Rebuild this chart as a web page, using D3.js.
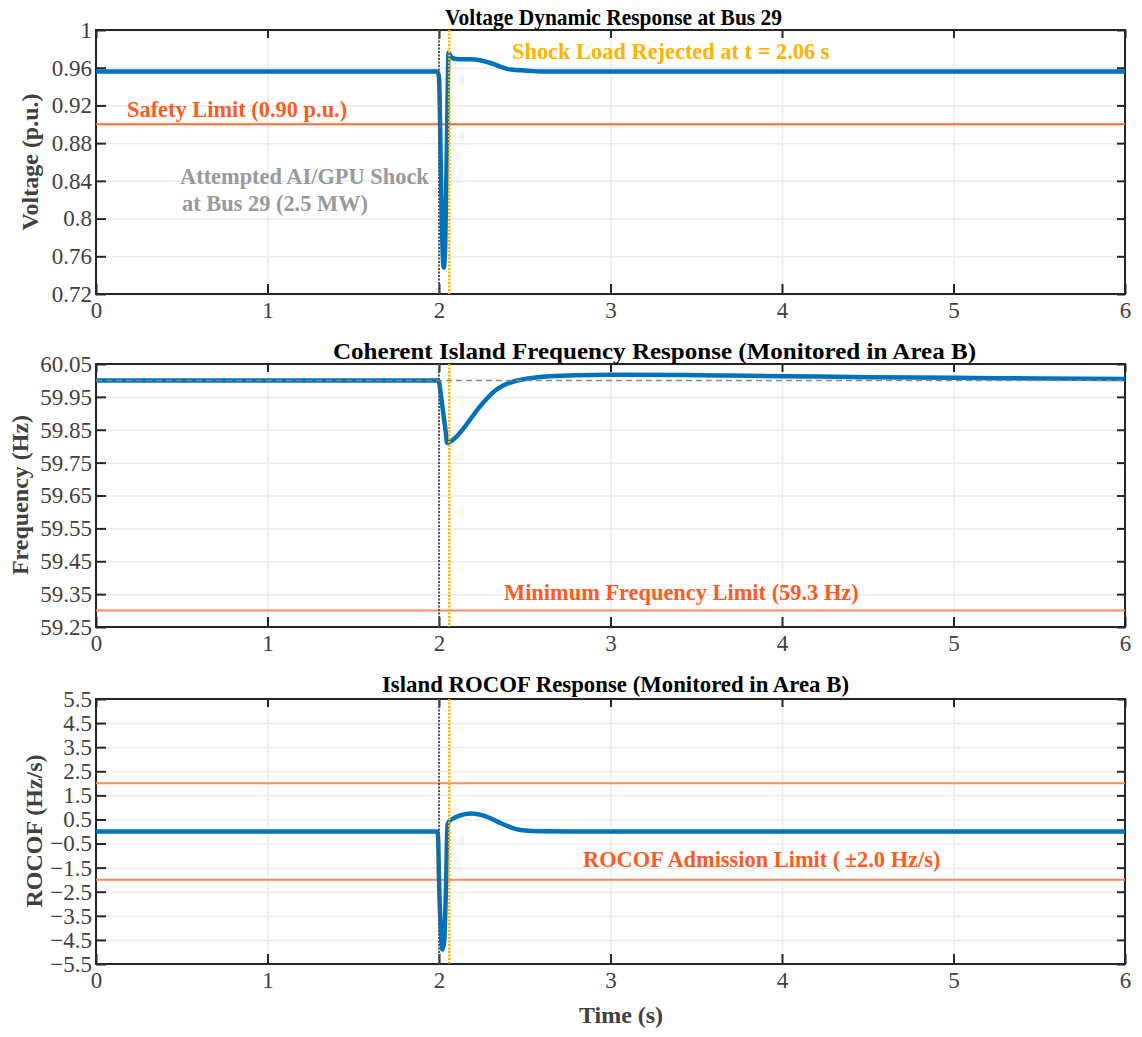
<!DOCTYPE html>
<html>
<head>
<meta charset="utf-8">
<script src="https://cdn.jsdelivr.net/npm/d3@7"></script>
<style>
  body { margin: 0; background: #fff; }
  text { font-family: "Liberation Serif", "Times New Roman", serif; }
</style>
</head>
<body>
<div id="container"></div>
<script>
let w = 1142;
let h = 1037;

// time axis
let xTicks = [0, 1, 2, 3, 4, 5, 6];

// voltage at bus 29
let voltTime = [0, 1.99, 2.0, 2.01, 2.02, 2.028, 2.036, 2.046, 2.056, 2.066, 2.08, 2.12, 2.18, 2.24, 2.3, 2.36, 2.42, 2.5, 2.6, 3.0, 6];
let voltVal  = [0.956, 0.956, 0.95, 0.86, 0.77, 0.748, 0.77, 0.88, 0.976, 0.973, 0.970, 0.969, 0.969, 0.968, 0.965, 0.961, 0.958, 0.957, 0.956, 0.956, 0.956];
let voltTicks = [0.72, 0.76, 0.8, 0.84, 0.88, 0.92, 0.96, 1];
let voltLimit = 0.90;

// island frequency
let freqTime = [0, 1.99, 2.0, 2.01, 2.02, 2.03, 2.04, 2.047, 2.06, 2.1, 2.14, 2.18, 2.23, 2.28, 2.33, 2.38, 2.43, 2.52, 2.65, 2.8, 3.0, 3.5, 4, 4.5, 5, 5.5, 6];
let freqVal  = [60.0, 60.0, 59.995, 59.96, 59.92, 59.88, 59.84, 59.81, 59.812, 59.828, 59.852, 59.88, 59.915, 59.945, 59.97, 59.986, 59.996, 60.006, 60.013, 60.016, 60.017, 60.016, 60.013, 60.010, 60.008, 60.006, 60.004];
let freqTicks = [59.25, 59.35, 59.45, 59.55, 59.65, 59.75, 59.85, 59.95, 60.05];
let freqNominal = 60.0;
let freqLimit = 59.3;

// island rocof
let rocofTime = [0, 1.99, 1.995, 2.0, 2.01, 2.02, 2.03, 2.04, 2.05, 2.06, 2.1, 2.15, 2.19, 2.25, 2.3, 2.35, 2.4, 2.45, 2.5, 2.6, 2.8, 6];
let rocofVal  = [0, 0, -0.3, -2.0, -4.0, -4.9, -4.6, -2.5, 0.3, 0.42, 0.6, 0.72, 0.75, 0.68, 0.55, 0.38, 0.22, 0.1, 0.04, 0.01, 0, 0];
let rocofTicks = [-5.5, -4.5, -3.5, -2.5, -1.5, -0.5, 0.5, 1.5, 2.5, 3.5, 4.5, 5.5];
let rocofLimits = [2.0, -2.0];

// events
let shockTime = 2.0;
let rejectTime = 2.06;

let viz = d3.select("#container")
  .append("svg")
    .attr("width", w)
    .attr("height", h)
    .style("background-color", "#fff")
;

let left = 96;
let right = 1125;
let blue = "#0072BD";
let limitColor = "#ff5a1f";

let x = d3.scaleLinear().domain([0, 6]).range([left, right]);

function drawPanel(top, bottom, domain, ticks, fmt){
    let y = d3.scaleLinear().domain(domain).range([bottom, top]);
    let g = viz.append("g");

    // grid
    g.append("g")
        .attr("transform", "translate(0," + bottom + ")")
        .call(d3.axisBottom(x).tickValues(xTicks).tickSize(-(bottom - top)).tickFormat(""))
        .call(a => a.select(".domain").remove())
        .selectAll("line").attr("stroke", "#ebebeb").attr("stroke-width", 1.5)
    ;
    g.append("g")
        .attr("transform", "translate(" + left + ",0)")
        .call(d3.axisLeft(y).tickValues(ticks).tickSize(-(right - left)).tickFormat(""))
        .call(a => a.select(".domain").remove())
        .selectAll("line").attr("stroke", "#ebebeb").attr("stroke-width", 1.5)
    ;

    // axes with inward ticks, mirrored on top / right
    let xb = g.append("g")
        .attr("transform", "translate(0," + bottom + ")")
        .call(d3.axisBottom(x).tickValues(xTicks).tickSize(-10).tickPadding(8).tickFormat(d3.format("d")));
    let yl = g.append("g")
        .attr("transform", "translate(" + left + ",0)")
        .call(d3.axisLeft(y).tickValues(ticks).tickSize(-10).tickPadding(4).tickFormat(fmt));
    let xt = g.append("g")
        .attr("transform", "translate(0," + top + ")")
        .call(d3.axisTop(x).tickValues(xTicks).tickSize(-8).tickFormat(""));
    let yr = g.append("g")
        .attr("transform", "translate(" + right + ",0)")
        .call(d3.axisRight(y).tickValues(ticks).tickSize(-8).tickFormat(""));

    [xb, yl, xt, yr].forEach(a => {
        a.select(".domain").remove();
        a.selectAll("line").attr("stroke", "#262626").attr("stroke-width", 2);
        a.selectAll("text").attr("fill", "#404040").style("font-size", "23px");
    });

    g.append("rect")
        .attr("x", left)
        .attr("y", top)
        .attr("width", right - left)
        .attr("height", bottom - top)
        .attr("fill", "none")
        .attr("stroke", "#262626")
        .attr("stroke-width", 2)
    ;
    return {g: g, y: y};
}

function drawCurve(p, ts, vs){
    let line = d3.line()
        .x((d, i) => x(ts[i]))
        .y(d => p.y(d))
        .curve(d3.curveMonotoneX);
    p.g.append("path")
        .datum(vs)
        .attr("d", line)
        .attr("fill", "none")
        .attr("stroke", blue)
        .attr("stroke-width", 4.5)
        .attr("stroke-linejoin", "round")
    ;
}

function hLine(p, v, color, width, dash){
    p.g.append("line")
        .attr("x1", left).attr("x2", right)
        .attr("y1", p.y(v)).attr("y2", p.y(v))
        .attr("stroke", color)
        .attr("stroke-width", width)
        .attr("stroke-dasharray", dash || null)
    ;
}

function eventLines(p, top, bottom){
    p.g.append("line")
        .attr("x1", x(shockTime)).attr("x2", x(shockTime))
        .attr("y1", top).attr("y2", bottom)
        .attr("stroke", "#555")
        .attr("stroke-width", 2)
        .attr("stroke-dasharray", "2,1.5")
    ;
    p.g.append("line")
        .attr("x1", x(rejectTime)).attr("x2", x(rejectTime))
        .attr("y1", top).attr("y2", bottom)
        .attr("stroke", "#FFB300")
        .attr("stroke-width", 2.5)
        .attr("stroke-dasharray", "2,1.5")
    ;
}

function label(txt, px, py, color, size, anchor, len){
    let t = viz.append("text")
        .attr("x", px)
        .attr("y", py)
        .attr("fill", color)
        .attr("text-anchor", anchor || "start")
        .style("font-size", size + "px")
        .style("font-weight", "bold")
        .text(txt)
    ;
    if (len) t.attr("textLength", len).attr("lengthAdjust", "spacingAndGlyphs");
}

function yLabel(txt, px, py){
    viz.append("text")
        .attr("transform", "translate(" + px + "," + py + ") rotate(-90)")
        .attr("fill", "#404040")
        .attr("text-anchor", "middle")
        .style("font-size", "24px")
        .style("font-weight", "bold")
        .text(txt)
    ;
}

let numFmt = d => String(+d.toFixed(2));
let signedFmt = d => (d < 0 ? "\u2212" : "") + Math.abs(d).toFixed(1);

// ---- voltage panel
let p1 = drawPanel(30, 294, [0.72, 1], voltTicks, numFmt);
hLine(p1, voltLimit, "#ff6a35", 2);
drawCurve(p1, voltTime, voltVal);
eventLines(p1, 30, 294);
label("Voltage Dynamic Response at Bus 29", 445, 25, "#000", 23, "start", 337);
label("Shock Load Rejected at t = 2.06 s", 512, 59, "#FFB300", 22.4);
label("Safety Limit (0.90 p.u.)", 127, 117, limitColor, 22.4);
label("Attempted AI/GPU Shock", 180, 184, "#999", 22.4);
label("at Bus 29 (2.5 MW)", 182, 211, "#999", 22.4);
yLabel("Voltage (p.u.)", 38, 162);

// ---- frequency panel
let p2 = drawPanel(364, 627, [59.25, 60.05], freqTicks, numFmt);
hLine(p2, freqLimit, "#ff8a5c", 2);
drawCurve(p2, freqTime, freqVal);
hLine(p2, freqNominal, "#888", 1.5, "6,4");
eventLines(p2, 364, 627);
label("Coherent Island Frequency Response (Monitored in Area B)", 333, 359, "#000", 23, "start", 643);
label("Minimum Frequency Limit (59.3 Hz)", 504, 600, limitColor, 22.4);
yLabel("Frequency (Hz)", 28, 495);

// ---- rocof panel
let p3 = drawPanel(699, 964, [-5.5, 5.5], rocofTicks, signedFmt);
rocofLimits.forEach(v => hLine(p3, v, "#ff8a5c", 2));
drawCurve(p3, rocofTime, rocofVal);
eventLines(p3, 699, 964);
label("Island ROCOF Response (Monitored in Area B)", 382, 692, "#000", 23, "start", 467);
label("ROCOF Admission Limit (\u2009\u00b12.0 Hz/s)", 583, 867, limitColor, 22.4);
yLabel("ROCOF (Hz/s)", 42, 831);

label("Time (s)", 621, 1023, "#404040", 24, "middle");
</script>
</body>
</html>
